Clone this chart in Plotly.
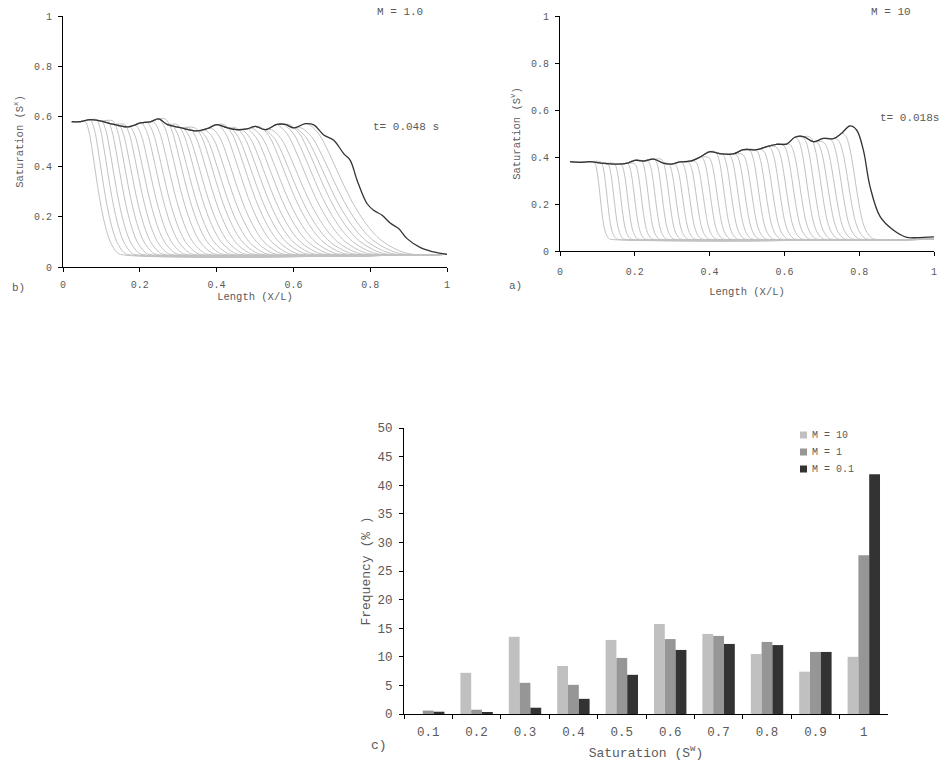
import plotly.graph_objects as go

# ---------------- data ----------------
# Panel b (M = 1.0): black envelope (latest profile)
b_env_x = [0.023, 0.045, 0.071, 0.097, 0.132, 0.167, 0.184, 0.201, 0.227, 0.249, 0.271, 0.306,
           0.349, 0.375, 0.401, 0.427, 0.453, 0.479, 0.501, 0.527, 0.557, 0.579, 0.601, 0.631,
           0.653, 0.679, 0.705, 0.731, 0.748, 0.766, 0.792, 0.809, 0.831, 0.852, 0.874, 0.896,
           0.931, 0.965, 1.0]
b_env_y = [0.579, 0.579, 0.587, 0.582, 0.568, 0.558, 0.564, 0.574, 0.578, 0.590, 0.568, 0.555,
           0.542, 0.551, 0.567, 0.555, 0.547, 0.550, 0.560, 0.547, 0.568, 0.568, 0.554, 0.571,
           0.566, 0.526, 0.505, 0.452, 0.425, 0.345, 0.252, 0.226, 0.206, 0.175, 0.153, 0.113,
           0.077, 0.060, 0.050]
# Panel b: earlier profiles — where each leaves the plateau and where it reaches the floor
b_front_top = [0.058, 0.072, 0.087, 0.101, 0.116, 0.130, 0.145, 0.160, 0.175, 0.190, 0.205,
               0.220, 0.236, 0.251, 0.266, 0.282, 0.297, 0.312, 0.328, 0.343, 0.358, 0.374,
               0.389, 0.404, 0.420, 0.435, 0.450, 0.466, 0.481, 0.496, 0.512, 0.527, 0.543,
               0.558, 0.574, 0.589, 0.605, 0.620, 0.636]
b_front_bottom = [0.150, 0.168, 0.187, 0.206, 0.225, 0.244, 0.263, 0.282, 0.302, 0.321, 0.341,
                  0.360, 0.380, 0.400, 0.420, 0.440, 0.460, 0.480, 0.500, 0.520, 0.540, 0.561,
                  0.581, 0.602, 0.622, 0.643, 0.663, 0.684, 0.705, 0.726, 0.747, 0.768, 0.789,
                  0.810, 0.831, 0.852, 0.873, 0.895, 0.916]
# normalised shape of a front (position fraction -> remaining height fraction)
b_shape_t = [0.0, 0.1, 0.2, 0.3, 0.4, 0.5, 0.6, 0.7, 0.8, 0.9, 1.0]
b_shape_h = [1.0, 0.93, 0.78, 0.60, 0.43, 0.29, 0.18, 0.10, 0.05, 0.015, 0.0]
b_floor = 0.05

# Panel a (M = 10): black envelope
a_env_x = [0.027, 0.053, 0.080, 0.116, 0.152, 0.178, 0.201, 0.223, 0.250, 0.276, 0.299, 0.321,
           0.348, 0.374, 0.401, 0.428, 0.463, 0.490, 0.526, 0.553, 0.579, 0.606, 0.628, 0.651,
           0.677, 0.704, 0.731, 0.753, 0.775, 0.793, 0.811, 0.829, 0.856, 0.891, 0.927, 0.954,
           1.0]
a_env_y = [0.380, 0.377, 0.380, 0.373, 0.370, 0.373, 0.386, 0.383, 0.391, 0.374, 0.370, 0.379,
           0.382, 0.399, 0.423, 0.414, 0.413, 0.431, 0.431, 0.444, 0.454, 0.455, 0.484, 0.487,
           0.465, 0.479, 0.478, 0.501, 0.532, 0.515, 0.430, 0.274, 0.146, 0.089, 0.058, 0.057,
           0.060]
a_front_top = [0.090, 0.108, 0.126, 0.144, 0.162, 0.180, 0.198, 0.216, 0.234, 0.252, 0.270,
               0.288, 0.306, 0.324, 0.342, 0.360, 0.378, 0.396, 0.414, 0.432, 0.450, 0.468,
               0.486, 0.504, 0.522, 0.540, 0.558, 0.576, 0.594, 0.612, 0.630, 0.648, 0.666,
               0.684, 0.702, 0.720, 0.738, 0.756]
a_front_bottom = [0.135, 0.154, 0.173, 0.192, 0.211, 0.230, 0.249, 0.268, 0.287, 0.306, 0.325,
                  0.344, 0.363, 0.382, 0.401, 0.420, 0.439, 0.458, 0.477, 0.497, 0.516, 0.535,
                  0.554, 0.573, 0.593, 0.612, 0.631, 0.650, 0.670, 0.689, 0.708, 0.727, 0.747,
                  0.766, 0.785, 0.804, 0.824, 0.843]
a_shape_t = [0.0, 0.1, 0.2, 0.3, 0.4, 0.5, 0.6, 0.7, 0.8, 0.9, 1.0]
a_shape_h = [1.0, 0.97, 0.88, 0.72, 0.52, 0.33, 0.18, 0.09, 0.04, 0.01, 0.0]
a_floor = 0.05

# Panel c: frequency histogram
sat_bins = ["0.1", "0.2", "0.3", "0.4", "0.5", "0.6", "0.7", "0.8", "0.9", "1"]
series_names = ["M = 10", "M = 1", "M = 0.1"]
series_colors = ["#c0c0c0", "#969696", "#333333"]
freq_M10 = [0.0, 7.2, 13.5, 8.4, 12.95, 15.75, 14.0, 10.5, 7.4, 10.0]
freq_M1 = [0.6, 0.75, 5.45, 5.1, 9.8, 13.1, 13.65, 12.6, 10.85, 27.75]
freq_M01 = [0.4, 0.25, 1.1, 2.65, 6.85, 11.2, 12.25, 12.05, 10.85, 41.9]

# ---------------- figure ----------------
W, H = 941, 763
FONT = "Liberation Mono, Courier New, monospace"
TXT = "#5a5a5a"
GRAY = "#c2c2c2"
DARK = "#333333"


def px_x(p):
    return p / W


def px_y(p):
    return 1 - p / H


def build_profile(env_x, env_y, x_top, x_bot, sh_t, sh_h, floor):
    xs, ys = [], []
    level = env_y[0]
    for ex, ey in zip(env_x, env_y):
        if ex <= x_top:
            xs.append(ex)
            ys.append(ey)
            level = ey
    for t, h in zip(sh_t, sh_h):
        xs.append(x_top + t * (x_bot - x_top))
        ys.append(floor + h * (level - floor))
    xs.append(1.0)
    ys.append(floor)
    return xs, ys


fig = go.Figure()

# panel b curves
for xt, xb in zip(b_front_top, b_front_bottom):
    xs, ys = build_profile(b_env_x, b_env_y, xt, xb, b_shape_t, b_shape_h, b_floor)
    fig.add_trace(go.Scatter(x=xs, y=ys, mode="lines", line=dict(color=GRAY, width=1, shape="spline"),
                             xaxis="x", yaxis="y", showlegend=False, hoverinfo="skip"))
fig.add_trace(go.Scatter(x=b_env_x, y=b_env_y, mode="lines", line=dict(color=DARK, width=1.3, shape="spline"),
                         xaxis="x", yaxis="y", showlegend=False))

# panel a curves
for xt, xb in zip(a_front_top, a_front_bottom):
    xs, ys = build_profile(a_env_x, a_env_y, xt, xb, a_shape_t, a_shape_h, a_floor)
    fig.add_trace(go.Scatter(x=xs, y=ys, mode="lines", line=dict(color=GRAY, width=1, shape="spline"),
                             xaxis="x2", yaxis="y2", showlegend=False, hoverinfo="skip"))
fig.add_trace(go.Scatter(x=a_env_x, y=a_env_y, mode="lines", line=dict(color=DARK, width=1.3, shape="spline"),
                         xaxis="x2", yaxis="y2", showlegend=False))

# panel c bars
for name, col, vals in zip(series_names, series_colors, [freq_M10, freq_M1, freq_M01]):
    fig.add_trace(go.Bar(x=sat_bins, y=vals, name=name, marker=dict(color=col, line_width=0),
                         xaxis="x3", yaxis="y3", showlegend=False))

tickfont_small = dict(family=FONT, size=10, color=TXT)
tickfont_big = dict(family=FONT, size=12.5, color=TXT)
ttl_small = dict(family=FONT, size=10.5, color=TXT)
ttl_big = dict(family=FONT, size=13, color=TXT)

common_line = dict(showline=True, linecolor="#000000", linewidth=1, ticks="outside", ticklen=4,
                   tickcolor="#000000", showgrid=False, zeroline=False, automargin=False)
ticks01 = [0, 0.2, 0.4, 0.6, 0.8, 1]
ticks01_txt = ["0", "0.2", "0.4", "0.6", "0.8", "1"]

fig.update_layout(
    width=W, height=H, margin=dict(l=0, r=0, t=0, b=0, autoexpand=False),
    paper_bgcolor="white", plot_bgcolor="white",
    barmode="group", bargap=0.33, bargroupgap=0,
    showlegend=False,
    xaxis=dict(domain=[px_x(63), px_x(447)], anchor="y", range=[0, 1], tickvals=ticks01,
               ticktext=ticks01_txt, tickfont=tickfont_small, ticklabelstandoff=4,
               title=dict(text="Length (X/L)", font=ttl_small, standoff=2), **common_line),
    yaxis=dict(domain=[px_y(267), px_y(16)], anchor="x", range=[0, 1], tickvals=ticks01,
               ticktext=ticks01_txt, tickfont=tickfont_small, ticklabelstandoff=4,
               title=dict(text="Saturation (S<sup>x</sup>)", font=ttl_small, standoff=8), **common_line),
    xaxis2=dict(domain=[px_x(560), px_x(934)], anchor="y2", range=[0, 1], tickvals=ticks01,
                ticktext=ticks01_txt, tickfont=tickfont_small, ticklabelstandoff=7,
                title=dict(text="Length (X/L)", font=ttl_small, standoff=10), **common_line),
    yaxis2=dict(domain=[px_y(251), px_y(16)], anchor="x2", range=[0, 1], tickvals=ticks01,
                ticktext=ticks01_txt, tickfont=tickfont_small, ticklabelstandoff=4,
                title=dict(text="Saturation (S<sup>v</sup>)", font=ttl_small, standoff=8), **common_line),
    xaxis3=dict(domain=[px_x(404), px_x(888)], anchor="y3", type="category", tickson="boundaries",
                tickfont=tickfont_big, ticklabelstandoff=6,
                title=dict(text="Saturation (S<sup>w</sup>)", font=ttl_big, standoff=8), **common_line),
    yaxis3=dict(domain=[px_y(714), px_y(428)], anchor="x3", range=[0, 50], tickvals=list(range(0, 51, 5)),
                tickfont=tickfont_big, ticklabelstandoff=4,
                title=dict(text="Frequency (% )", font=ttl_big, standoff=3), **common_line),
)

lab_font = dict(family=FONT, size=11, color=TXT)
big_font = dict(family=FONT, size=13, color=TXT)


def ann(text, x, y, font, angle=0, xanchor="center"):
    fig.add_annotation(text=text, x=px_x(x), y=px_y(y), xref="paper", yref="paper", showarrow=False,
                       font=font, textangle=angle, xanchor=xanchor, yanchor="middle")


# panel b texts
ann("M = 1.0", 400, 12, lab_font)
ann("t= 0.048 s", 406, 127, lab_font)
ann("b)", 18, 288, lab_font)
# panel a texts
ann("M = 10", 891, 12, lab_font)
ann("t= 0.018s", 941, 118, lab_font, xanchor="right")
ann("a)", 515, 286, lab_font)
# panel c text
ann("c)", 379, 745, big_font)

# panel c legend: small squares with labels
leg_y = [435, 452, 469]
for name, col, yy in zip(series_names, series_colors, leg_y):
    fig.add_shape(type="rect", xref="paper", yref="paper", x0=px_x(800), x1=px_x(807),
                  y0=px_y(yy + 3.5), y1=px_y(yy - 3.5), fillcolor=col, line_width=0)
    ann(name, 810, yy, dict(family=FONT, size=10, color=TXT), xanchor="left")

fig.write_html("out.html", config={"displayModeBar": False},
               post_script="document.body.style.margin='0';document.body.style.overflow='hidden';")
